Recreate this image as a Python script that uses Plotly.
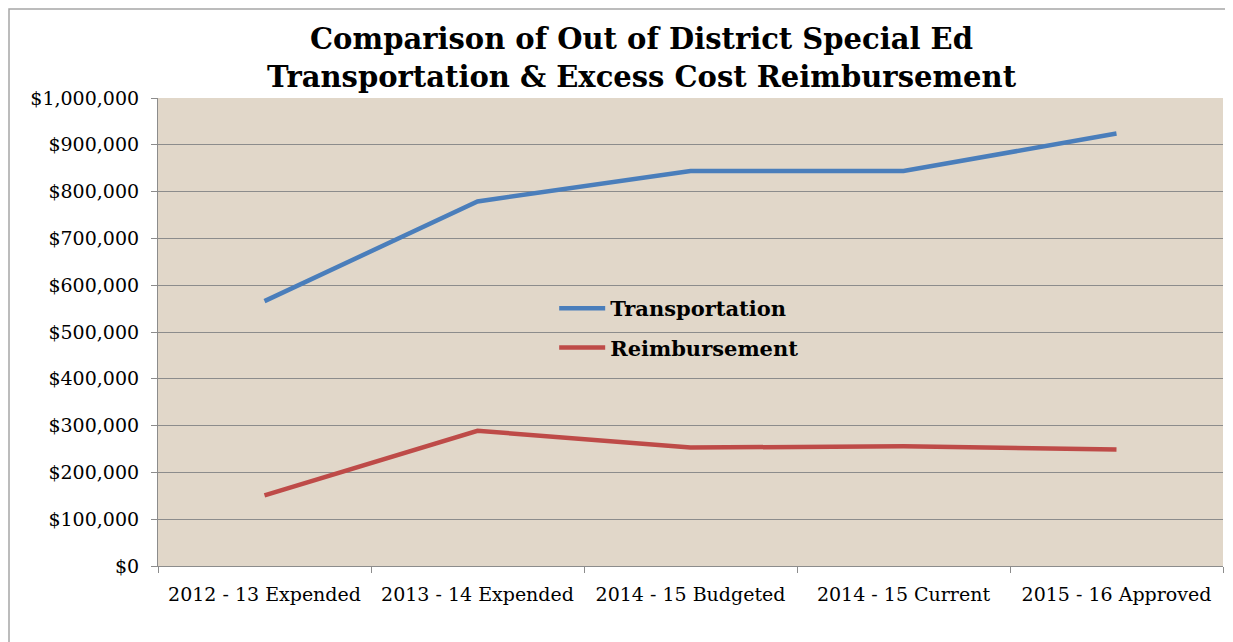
import plotly.graph_objects as go

categories = ["2012 - 13 Expended", "2013 - 14 Expended", "2014 - 15 Budgeted",
              "2014 - 15 Current", "2015 - 16 Approved"]
transportation = [566000, 779000, 844000, 844000, 924000]
reimbursement = [151000, 289000, 253000, 256000, 249000]

FONT = "DejaVu Serif"

fig = go.Figure()
fig.add_trace(go.Scatter(x=categories, y=transportation, mode="lines",
                         name="Transportation", legendgroup="t",
                         line=dict(color="#4a7ebb", width=4.5)))
fig.add_trace(go.Scatter(x=categories, y=reimbursement, mode="lines",
                         name="Reimbursement", legendgroup="r",
                         line=dict(color="#be4b48", width=4.5)))

# page is offset by 8px body margin; compensate in margins
fig.update_layout(
    width=1233, height=642,
    margin=dict(l=150, r=18, t=90, b=84),
    paper_bgcolor="white",
    plot_bgcolor="#e1d7c9",
    font=dict(family=FONT, color="black", size=19),
    showlegend=True,
    legend=dict(x=0.372, y=0.594, xanchor="left", yanchor="top",
                bgcolor="rgba(0,0,0,0)", font=dict(size=21, family=FONT, weight="bold"),
                tracegroupgap=9, itemwidth=46),
    annotations=[dict(
        text="<b>Comparison of Out of District Special Ed<br>Transportation & Excess Cost Reimbursement</b>",
        xref="paper", yref="paper", x=(642-158)/1065, y=1.0, xanchor="center", yanchor="bottom",
        yshift=2, showarrow=False, font=dict(size=29, family=FONT), align="center")],
    shapes=[dict(type="rect", xref="paper", yref="paper",
                 x0=-149/1065, x1=1.2, y0=-0.3, y1=(468+89)/468,
                 line=dict(color="#a6a6a6", width=1.5), fillcolor="rgba(0,0,0,0)", layer="below")],
)
fig.update_xaxes(showgrid=False, showline=True, linecolor="#8c8c8c", linewidth=1.2,
                 ticks="outside", tickson="boundaries", ticklen=6, tickcolor="#8c8c8c",
                 tickfont=dict(size=19), range=[-0.5, 4.5], ticklabelstandoff=11)
fig.update_yaxes(range=[0, 1000000], dtick=100000, tickformat="$,.0f",
                 showgrid=True, gridcolor="#8c8c8c", gridwidth=1.2,
                 showline=True, linecolor="#8c8c8c", linewidth=1.2,
                 ticks="outside", ticklen=6, tickcolor="#8c8c8c",
                 tickfont=dict(size=19), zeroline=False, ticklabelstandoff=8)

fig.write_html("out.html")
